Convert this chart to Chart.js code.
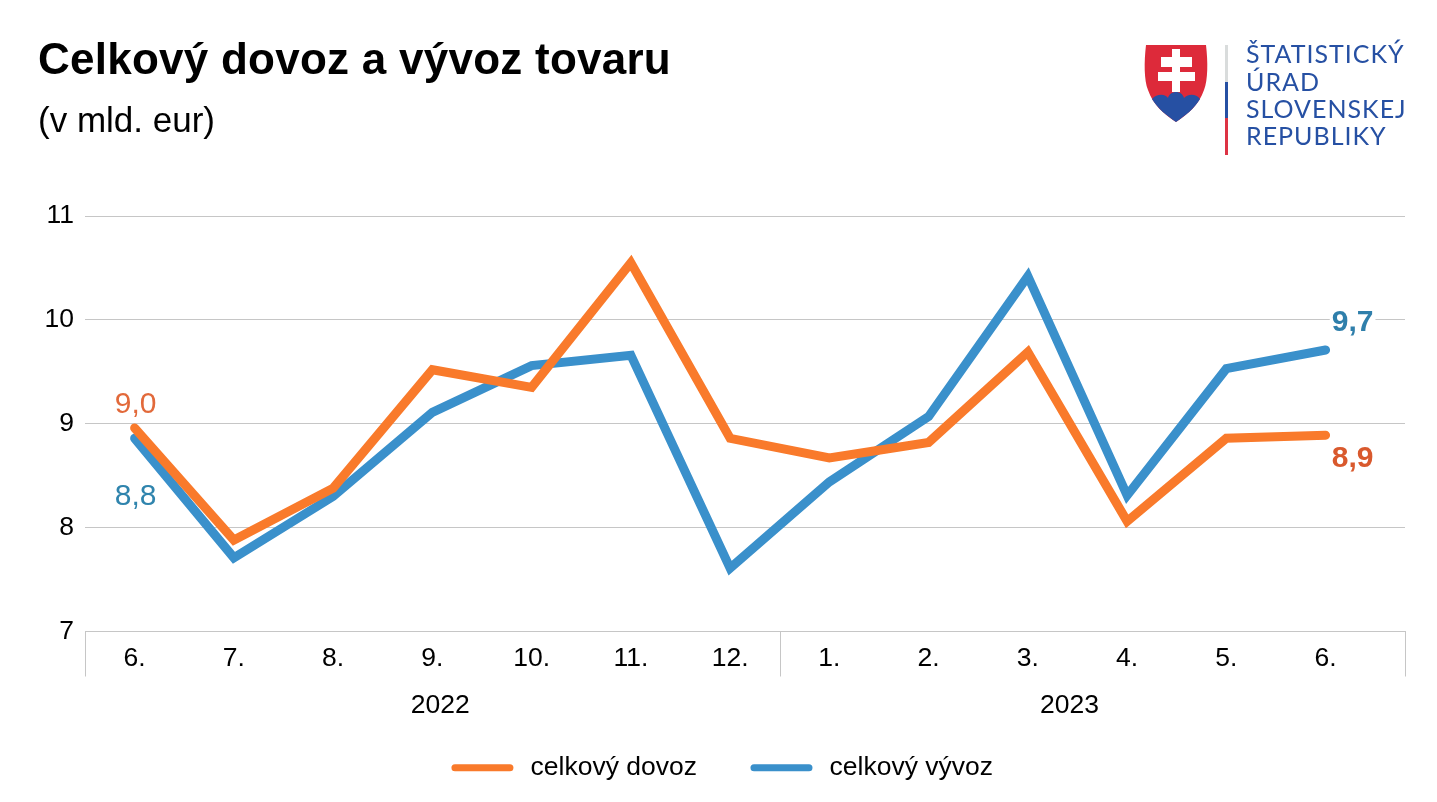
<!DOCTYPE html>
<html lang="sk">
<head>
    <meta charset="UTF-8">
    <title>Celkový dovoz a vývoz tovaru</title>
    <script src="https://cdn.jsdelivr.net/npm/chart.js"></script>
    <style>
        html, body { margin: 0; padding: 0; background: #fff; overflow: hidden; }
        body { width: 1437px; height: 802px; position: relative; font-family: "Liberation Sans", sans-serif; }
        h1 { position: absolute; left: 38px; top: 36px; margin: 0; font-size: 44px; line-height: 46px; font-weight: bold; color: #000; white-space: nowrap; letter-spacing: 0.25px; }
        .sub { position: absolute; left: 38px; top: 100px; font-size: 35px; line-height: 40px; color: #000; white-space: nowrap; }
        #chartBox { position: absolute; left: 0; top: 0; width: 1437px; height: 802px; }
        #logo { position: absolute; left: 1130px; top: 30px; }
    </style>
</head>
<body>
    <div id="chartBox"><canvas id="tradeChart" width="1437" height="802"></canvas></div>
    <h1>Celkový dovoz a vývoz tovaru</h1>
    <div class="sub">(v mld. eur)</div>
    <svg id="logo" width="300" height="140" viewBox="0 0 300 140">
        <path d="M16 15 H76 C78 32 78 50 74 60 C69 75 58 84 46 92 C34 84 23 75 18 60 C14 50 14 32 16 15 Z" fill="#dd2a3a"/>
        <path d="M22 69 C27 63 36 64 38 68 C40 60 52 60 54 68 C57 64 66 63 70 69 C64 79 56 85 46 92 C36 85 28 79 22 69 Z" fill="#2650a3"/>
        <path d="M42 19 H50 V27 H62 V37 H50 V42 H65 V51 H50 V62 H42 V51 H28 V42 H42 V37 H31 V27 H42 Z" fill="#fff"/>
        <rect x="95" y="15" width="3" height="37" fill="#d9dcdc"/>
        <rect x="95" y="52" width="3" height="36" fill="#2650a3"/>
        <rect x="95" y="88" width="3" height="37" fill="#dd3344"/>
        <g font-family="Lato" font-size="25" fill="#2650a3" letter-spacing="1">
            <text x="116" y="33">ŠTATISTICKÝ</text>
            <text x="116" y="61">ÚRAD</text>
            <text x="116" y="88">SLOVENSKEJ</text>
            <text x="116" y="115">REPUBLIKY</text>
        </g>
    </svg>
    <script>
        const months = ['6.', '7.', '8.', '9.', '10.', '11.', '12.', '1.', '2.', '3.', '4.', '5.', '6.'];
        const years = ['2022', '2023'];
        const yearCenters = [3.08, 9.42];
        const yearBreaks = [-0.5, 6.5, 12.8];
        const importValues = [8.96, 7.88, 8.38, 9.52, 9.35, 10.55, 8.86, 8.67, 8.82, 9.69, 8.06, 8.86, 8.89];
        const exportValues = [8.86, 7.71, 8.30, 9.11, 9.56, 9.66, 7.61, 8.44, 9.07, 10.42, 8.31, 9.53, 9.71];
        const yTicks = [7, 8, 9, 10, 11];

        const gridColor = '#c6c6c6';
        const font = '"Liberation Sans", sans-serif';

        // value labels sit next to the first and last points
        const pointLabels = [
            { text: '9,0', series: 0, index: 0, dx: 1, dy: -23, color: '#e2693a', bold: false },
            { text: '8,8', series: 1, index: 0, dx: 1, dy: 58, color: '#2f84ad', bold: false },
            { text: '9,7', series: 1, index: 12, dx: 27, dy: -27, color: '#2f7fab', bold: true },
            { text: '8,9', series: 0, index: 12, dx: 27, dy: 24, color: '#d9592d', bold: true }
        ];

        const extrasPlugin = {
            id: 'extras',
            afterDraw(chart) {
                const ctx = chart.ctx;
                const x = chart.scales.x;
                const bottom = chart.chartArea.bottom;
                ctx.save();
                ctx.strokeStyle = gridColor;
                ctx.lineWidth = 1;
                yearBreaks.forEach(b => {
                    const px = Math.round(x.getPixelForValue(b)) + 0.5;
                    ctx.beginPath();
                    ctx.moveTo(px, bottom);
                    ctx.lineTo(px, bottom + 45);
                    ctx.stroke();
                });
                ctx.textAlign = 'center';
                ctx.textBaseline = 'middle';
                ctx.fillStyle = '#000';
                ctx.font = '26.5px ' + font;
                years.forEach((y, i) => ctx.fillText(y, x.getPixelForValue(yearCenters[i]), bottom + 74));

                pointLabels.forEach(l => {
                    const pt = chart.getDatasetMeta(l.series).data[l.index];
                    ctx.font = (l.bold ? 'bold ' : '') + '30px ' + font;
                    const w = ctx.measureText(l.text).width;
                    const px = pt.x + l.dx;
                    const py = pt.y + l.dy;
                    if (l.bold) {
                        ctx.fillStyle = '#fff';
                        ctx.fillRect(px - w / 2 - 2, py - 15, w + 4, 30);
                    }
                    ctx.fillStyle = l.color;
                    ctx.fillText(l.text, px, py);
                });
                ctx.restore();
            }
        };

        new Chart(document.getElementById('tradeChart'), {
            type: 'line',
            data: {
                datasets: [
                    { label: ' celkový dovoz', order: 1, data: importValues.map((v, i) => ({ x: i, y: v })), borderColor: '#f97a2b', backgroundColor: '#f97a2b' },
                    { label: ' celkový vývoz', order: 2, data: exportValues.map((v, i) => ({ x: i, y: v })), borderColor: '#3a90cb', backgroundColor: '#3a90cb' }
                ]
            },
            options: {
                responsive: false,
                animation: false,
                devicePixelRatio: 1,
                // left padding keeps the legend centred where the reference has it
                layout: { padding: { top: 216, right: 32, bottom: 11, left: 43 } },
                elements: {
                    point: { radius: 0 },
                    line: { borderWidth: 9, tension: 0, borderCapStyle: 'round', borderJoinStyle: 'miter' }
                },
                scales: {
                    x: {
                        type: 'linear',
                        min: -0.5,
                        max: 12.8,
                        afterBuildTicks: axis => { axis.ticks = months.map((_, i) => ({ value: i })); },
                        afterFit: axis => { axis.height = 66; },
                        grid: { display: false },
                        border: { color: gridColor, width: 1 },
                        ticks: {
                            autoSkip: false,
                            maxRotation: 0,
                            padding: 3,
                            color: '#000',
                            font: { family: font, size: 26.5 },
                            callback: v => months[v]
                        }
                    },
                    y: {
                        min: 7,
                        max: 11,
                        afterBuildTicks: axis => { axis.ticks = yTicks.map(v => ({ value: v })); },
                        afterFit: axis => { axis.width = 42; },
                        grid: { color: gridColor, lineWidth: 1, drawTicks: false },
                        border: { display: false },
                        ticks: {
                            padding: 11,
                            color: '#000',
                            font: { family: font, size: 26.5 }
                        }
                    }
                },
                plugins: {
                    title: { display: false },
                    tooltip: { enabled: false },
                    legend: {
                        position: 'bottom',
                        align: 'center',
                        labels: {
                            usePointStyle: true,
                            pointStyleWidth: 55,
                            boxHeight: 8,
                            padding: 57,
                            color: '#000',
                            font: { family: font, size: 26.5 },
                            generateLabels: chart => chart.data.datasets.map((d, i) => ({
                                text: d.label,
                                datasetIndex: i,
                                pointStyle: 'line',
                                strokeStyle: d.borderColor,
                                fillStyle: d.borderColor,
                                lineWidth: 7,
                                lineCap: 'round',
                                fontColor: '#000'
                            }))
                        }
                    }
                }
            },
            plugins: [extrasPlugin]
        });
    </script>
</body>
</html>
